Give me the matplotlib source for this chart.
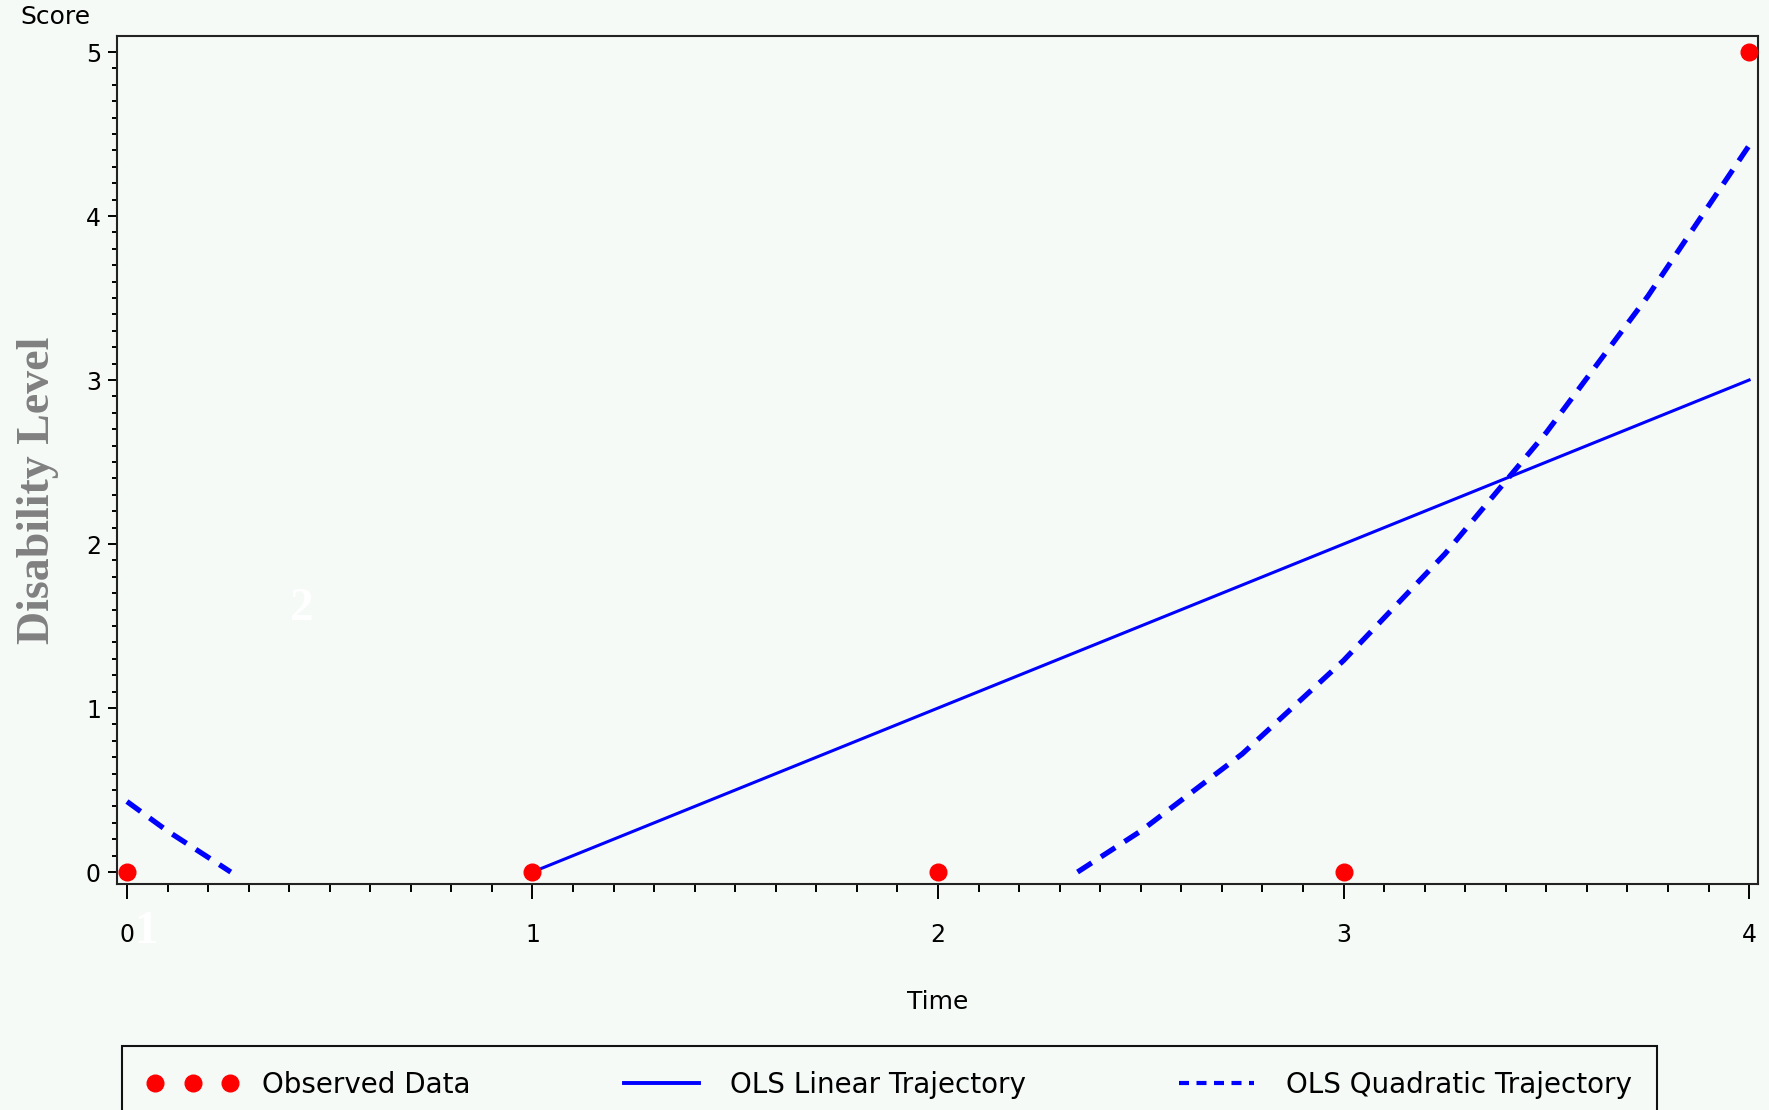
import matplotlib
matplotlib.use("Agg")
import matplotlib.pyplot as plt
from matplotlib.lines import Line2D
from matplotlib.ticker import MultipleLocator

# observed scores
obs_time = [0, 1, 2, 3, 4]
obs_score = [0, 0, 0, 0, 5]

# OLS linear trajectory (drawn where >= 0)
lin_time = [1, 4]
lin_score = [0, 3]

# OLS quadratic trajectory (two visible pieces)
quad_time_a = [0.0, 0.1, 0.2, 0.256]
quad_score_a = [0.43, 0.25, 0.09, 0.0]
quad_time_b = [2.344, 2.5, 2.75, 3.0, 3.25, 3.5, 3.75, 4.0]
quad_score_b = [0.0, 0.25, 0.72, 1.29, 1.94, 2.68, 3.51, 4.43]

bg = "#F5FAF7"
plt.rcParams["font.family"] = ["DejaVu Sans"]

fig = plt.figure(figsize=(17.69, 11.10), dpi=100, facecolor=bg)
ax = fig.add_axes([0.0661, 0.2036, 0.9277, 0.7640], facecolor=bg)

ax.plot(lin_time, lin_score, color="#0000FF", lw=2.2)
dash = (0, (3.2, 2.1))
ax.plot(quad_time_a, quad_score_a, color="#0000FF", lw=3.8, linestyle=dash)
ax.plot(quad_time_b, quad_score_b, color="#0000FF", lw=3.8, linestyle=dash)
ax.plot(obs_time, obs_score, "o", color="#FF0000", ms=12, zorder=5)

ax.set_xlim(-0.0247, 4.022)
ax.set_ylim(-0.073, 5.098)
ax.set_xticks([0, 1, 2, 3, 4])
ax.set_yticks([0, 1, 2, 3, 4, 5])
ax.xaxis.set_minor_locator(MultipleLocator(0.1))
ax.yaxis.set_minor_locator(MultipleLocator(0.1))

ax.tick_params(axis="x", which="major", length=11, width=1.4, pad=17, labelsize=17)
ax.tick_params(axis="x", which="minor", length=5.8, width=1.4)
ax.tick_params(axis="y", which="major", length=6.5, width=1.4, pad=5, labelsize=17)
ax.tick_params(axis="y", which="minor", length=3.6, width=1.4)

for sp in ax.spines.values():
    sp.set_linewidth(1.5)
    sp.set_color("#222222")

ax.set_xlabel("Time", fontsize=18, va="center")
ax.xaxis.set_label_coords(0.5, -0.139)
ax.set_ylabel("Disability Level", fontsize=33, color="#808080",
              family="Liberation Serif", fontweight="bold", va="center")
ax.yaxis.set_label_coords(-0.0481, 0.4646)

fig.text(20 / 1769, 1 - 17 / 1110, "Score", fontsize=18, va="center", ha="left")

# faint white numerals left over on the slide
fig.text(146 / 1769, 1 - 932 / 1110, "1", color="white", family="Liberation Serif",
         fontweight="bold", fontsize=34, ha="center", va="center")
fig.text(302 / 1769, 1 - 609 / 1110, "2", color="white", family="Liberation Serif",
         fontweight="bold", fontsize=34, ha="center", va="center")

handles = [
    Line2D([], [], marker="o", linestyle="none", color="#FF0000", ms=12),
    Line2D([], [], color="#0000FF", lw=2.8),
    Line2D([], [], color="#0000FF", lw=3.0, linestyle=(0, (2.4, 1.8))),
]
labels = ["Observed Data", "OLS Linear Trajectory", "OLS Quadratic Trajectory"]
leg = fig.legend(handles, labels, ncol=3, loc="upper left",
                 bbox_to_anchor=(122 / 1769, 1 - 1046 / 1110),
                 numpoints=3, fontsize=20, frameon=True, fancybox=False,
                 facecolor=bg, edgecolor="#111111", framealpha=1,
                 handlelength=3.3, handletextpad=0.85, columnspacing=5.2,
                 borderpad=0.9, borderaxespad=0)
leg.get_frame().set_linewidth(1.5)

fig.savefig("out.png", dpi=100, facecolor=bg)
